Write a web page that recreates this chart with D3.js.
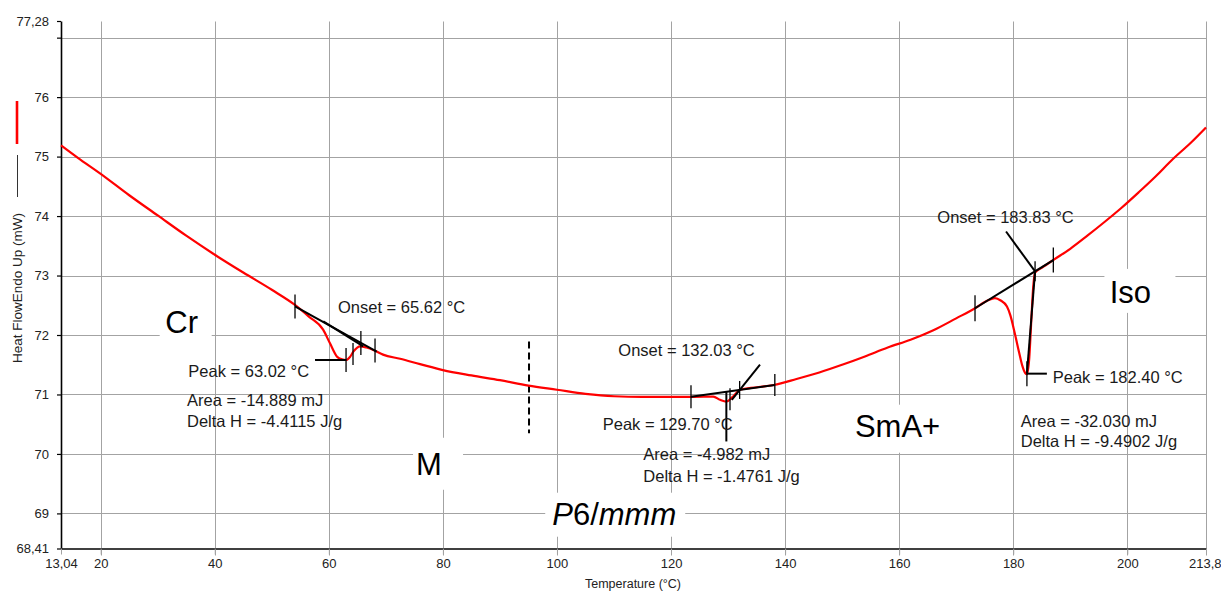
<!DOCTYPE html>
<html>
<head>
<meta charset="utf-8">
<script src="https://cdn.jsdelivr.net/npm/d3@7"></script>
<style>
  html, body { margin: 0; padding: 0; background: #fff; }
  svg { display: block; font-family: "Liberation Sans", Arial, sans-serif; }
</style>
</head>
<body>
<svg id="chart" width="1221" height="594"></svg>
<script>
// DSC heating trace: temperature (°C) and heat flow (mW, endo up)
const temperature = [13.04, 16, 20, 25, 30, 35, 40, 45, 50, 54, 56.5, 59, 60.2, 61.4, 62.3, 63.02, 63.7, 64.3,
  65.5, 66.6, 68, 69.5, 72.5, 76, 80, 85, 90, 95, 100, 105, 110, 115, 120, 124, 127.4, 128.6, 129.7, 130.7,
  132.1, 134, 138, 142, 146, 150, 154, 158, 162, 166, 170, 173.3, 175.5, 176.8, 177.8, 178.9, 179.5, 180.2,
  181, 181.6, 182.1, 182.4, 182.8, 183.2, 183.5, 183.83, 185, 187, 190, 193, 196, 199, 202, 205, 208, 211, 213.8];
const heatFlow = [75.19, 74.98, 74.71, 74.35, 74.01, 73.67, 73.35, 73.05, 72.76, 72.51, 72.31, 72.09, 71.86, 71.64,
  71.59, 71.58, 71.63, 71.72, 71.81, 71.79, 71.74, 71.67, 71.60, 71.51, 71.41, 71.32, 71.24, 71.15, 71.08, 71.01,
  70.97, 70.96, 70.96, 70.96, 70.965, 70.91, 70.88, 70.95, 71.08, 71.11, 71.16, 71.26, 71.37, 71.50, 71.64, 71.79,
  71.92, 72.08, 72.28, 72.45, 72.58, 72.62, 72.58, 72.48, 72.33, 72.06, 71.72, 71.48, 71.36, 71.34, 71.60, 72.30,
  72.80, 73.05, 73.13, 73.26, 73.45, 73.67, 73.90, 74.14, 74.40, 74.67, 74.96, 75.22, 75.49];

// Axis ticks
const xTickValues = [13.04, 20, 40, 60, 80, 100, 120, 140, 160, 180, 200, 213.8];
const xTickLabels = ["13,04", "20", "40", "60", "80", "100", "120", "140", "160", "180", "200", "213,8"];
const yTickValues = [68.41, 69, 70, 71, 72, 73, 74, 75, 76, 77, 77.28];
const yTickLabels = ["68,41", "69", "70", "71", "72", "73", "74", "75", "76", "", "77,28"];

// Peak analysis results, one entry per transition
const onsetT = [65.62, 132.03, 183.83];
const peakT = [63.02, 129.70, 182.40];
const areaMJ = [-14.889, -4.982, -32.030];
const deltaHJg = [-4.4115, -1.4761, -9.4902];

// Integration baselines [start, end] as [°C, mW]
const baselines = [
  [[54.07, 72.48], [68.4, 71.72]],
  [[123.5, 70.96], [138.2, 71.16]],
  [[173.3, 72.45], [187.03, 73.26]]
];
// Leading-edge tangents used for the onset
const onsetTangents = [
  [[59.03, 72.23], [66.04, 71.81]],
  [[130.65, 70.91], [135.6, 71.50]],
  [[178.74, 73.74], [183.83, 73.07]]
];
// Peak heat-flow level at each peak temperature
const peakLevel = [71.58, 70.88, 71.35];
// Extra marker positions (inflection points)
const inflections = [[64.24, 71.68], [130.34, 70.92]];

// Phase labels
const phaseNames = ["Cr", "M", "P6/mmm", "SmA+", "Iso"];
const phaseAt = [[34.2, 72.04], [77.57, 69.65], [110.04, 68.81], [159.72, 70.29], [200.55, 72.54]];
const phaseBoxes = [[-22, 30, -33, 12], [-16, 34, -37, 15], [-69, 71, -32, 12], [-48, 63, -32, 16], [-26, 45, -34, 10]];

// Phase boundary marker
const boundaryT = 95.1;
const boundaryRange = [70.35, 71.89];

const svg = d3.select("#chart");

const x = d3.scaleLinear().domain([13.04, 213.8]).range([61, 1206]);
const y = d3.scaleLinear().domain([68.41, 77.28]).range([548.5, 21]);
const px = v => Math.round(x(v)) + 0.5;
const py = v => Math.round(y(v)) + 0.5;

const gridColor = "#a3a3a3";

// Grid
const grid = svg.append("g");
grid.selectAll("line.gx").data(xTickValues.slice(1)).join("line")
  .attr("class", "gx")
  .attr("x1", d => px(d)).attr("x2", d => px(d))
  .attr("y1", py(77.28)).attr("y2", py(68.41) + 6)
  .attr("stroke", gridColor).attr("stroke-width", 1);
grid.selectAll("line.gy").data(yTickValues.filter(v => Number.isInteger(v))).join("line")
  .attr("class", "gy")
  .attr("x1", x(13.04)).attr("x2", px(213.8))
  .attr("y1", d => py(d)).attr("y2", d => py(d))
  .attr("stroke", gridColor).attr("stroke-width", 1);

// White backgrounds behind phase labels
svg.append("g").selectAll("rect").data(phaseNames).join("rect")
  .attr("x", (d, i) => x(phaseAt[i][0]) + phaseBoxes[i][0])
  .attr("y", (d, i) => y(phaseAt[i][1]) + phaseBoxes[i][2])
  .attr("width", (d, i) => phaseBoxes[i][1] - phaseBoxes[i][0])
  .attr("height", (d, i) => phaseBoxes[i][3] - phaseBoxes[i][2])
  .attr("fill", "#fff");

// Axes
const yAxis = d3.axisLeft(y).tickValues(yTickValues)
  .tickFormat((d, i) => yTickLabels[i]).tickSize(4).tickSizeOuter(0).tickPadding(8);
const gy = svg.append("g").attr("transform", "translate(61,0)").call(yAxis);
gy.select(".domain").attr("stroke", "#000").attr("stroke-width", 1.6);
gy.selectAll(".tick line").attr("stroke", "#000").attr("stroke-width", 1.2);
gy.selectAll(".tick text").attr("font-size", 13).attr("fill", "#222")
  .attr("font-family", "Liberation Sans, Arial, sans-serif");

const xAxis = d3.axisBottom(x).tickValues(xTickValues)
  .tickFormat((d, i) => xTickLabels[i]).tickSize(6).tickSizeOuter(0).tickPadding(4);
const gx = svg.append("g").attr("transform", `translate(0,${y(68.41)})`).call(xAxis);
gx.select(".domain").attr("stroke", "#000").attr("stroke-width", 1.6);
gx.selectAll(".tick line").attr("stroke", gridColor).attr("stroke-width", 1);
gx.selectAll(".tick text").attr("font-size", 13).attr("fill", "#222")
  .attr("font-family", "Liberation Sans, Arial, sans-serif");
// keep the last label inside the page edge
gx.selectAll(".tick text").filter((d, i) => i === xTickValues.length - 1)
  .attr("text-anchor", "end").attr("x", 15);

// Axis titles
svg.append("text")
  .attr("x", 633).attr("y", 588)
  .attr("text-anchor", "middle").attr("font-size", 12.5).attr("fill", "#222")
  .text("Temperature (°C)");
svg.append("text")
  .attr("transform", "translate(21.5,288) rotate(-90)")
  .attr("text-anchor", "middle").attr("font-size", 13.5).attr("fill", "#222")
  .text("Heat FlowEndo Up (mW)");
// Series key beside the y title
svg.append("line").attr("x1", 17).attr("x2", 17).attr("y1", 101).attr("y2", 144)
  .attr("stroke", "#ff0000").attr("stroke-width", 2.6);
svg.append("line").attr("x1", 17.5).attr("x2", 17.5).attr("y1", 155).attr("y2", 197)
  .attr("stroke", "#333").attr("stroke-width", 1);

// Phase boundary marker
svg.append("line")
  .attr("x1", x(boundaryT)).attr("x2", x(boundaryT))
  .attr("y1", y(boundaryRange[1])).attr("y2", y(boundaryRange[0]))
  .attr("stroke", "#000").attr("stroke-width", 2).attr("stroke-dasharray", "7,4");

// Heat-flow curve
const points = temperature.map((t, i) => [t, heatFlow[i]]);
svg.append("path").datum(points)
  .attr("fill", "none").attr("stroke", "#ff0000").attr("stroke-width", 2.2)
  .attr("stroke-linejoin", "round")
  .attr("d", d3.line().curve(d3.curveMonotoneX).x(d => x(d[0])).y(d => y(d[1])));

// Analysis overlays
const ann = svg.append("g").attr("stroke", "#000").attr("fill", "none");
const seg = (a, b, w) => ann.append("line")
  .attr("x1", x(a[0])).attr("y1", y(a[1])).attr("x2", x(b[0])).attr("y2", y(b[1]))
  .attr("stroke-width", w);
const tick = (p, half) => ann.append("line")
  .attr("x1", x(p[0])).attr("x2", x(p[0]))
  .attr("y1", y(p[1]) - half).attr("y2", y(p[1]) + half)
  .attr("stroke-width", 1.3);
const baseAt = (i, t) => {
  const [a, b] = baselines[i];
  return a[1] + (t - a[0]) * (b[1] - a[1]) / (b[0] - a[0]);
};

baselines.forEach(b => seg(b[0], b[1], 2));
onsetTangents.forEach(t => seg(t[0], t[1], 2));

// Cr melting
seg([57.58, peakLevel[0]], [peakT[0], peakLevel[0]], 2);
tick(baselines[0][0], 12);
tick([peakT[0], peakLevel[0]], 12);
tick(inflections[0], 11);
tick([onsetT[0], baseAt(0, onsetT[0])], 12);
tick([68.1, 71.74], 12);

// Middle transition
seg([peakT[1], 71.05], [peakT[1], 70.21], 2);
tick(baselines[1][0], 11.5);
tick(inflections[1], 11);
tick([onsetT[1], baseAt(1, onsetT[1])], 9);
tick(baselines[1][1], 11);

// Clearing
seg([onsetT[2], baseAt(2, onsetT[2])], [peakT[2], peakLevel[2]], 2);
seg([peakT[2], peakLevel[2]], [185.9, peakLevel[2]], 2);
tick(baselines[2][0], 13);
tick([peakT[2], peakLevel[2]], 12.5);
tick([onsetT[2], baseAt(2, onsetT[2])], 10);
tick(baselines[2][1], 12.5);

// Result texts
const fmt2 = d3.format(".2f");
const resultText = [];
[0, 1, 2].forEach(i => {
  resultText.push("Onset = " + fmt2(onsetT[i]) + " °C");
  resultText.push("Peak = " + fmt2(peakT[i]) + " °C");
  resultText.push("Area = " + areaMJ[i].toFixed(3) + " mJ");
  resultText.push("Delta H = " + deltaHJg[i].toFixed(4) + " J/g");
});
const resultAt = [
  [61.61, 72.37], [35.36, 71.30], [35.13, 70.81], [35.13, 70.46],
  [110.76, 71.64], [108.03, 70.40], [115.14, 69.89], [115.14, 69.53],
  [166.70, 73.88], [186.93, 71.20], [181.32, 70.46], [181.32, 70.11]
];
svg.append("g").selectAll("text").data(resultText).join("text")
  .attr("x", (d, i) => x(resultAt[i][0]))
  .attr("y", (d, i) => y(resultAt[i][1]))
  .attr("font-size", 16.5).attr("fill", "#1a1a1a")
  .text(d => d);

// Phase labels
const phases = svg.append("g");
phaseNames.forEach((name, i) => {
  const t = phases.append("text")
    .attr("x", x(phaseAt[i][0])).attr("y", y(phaseAt[i][1]))
    .attr("text-anchor", "middle").attr("font-size", 31).attr("fill", "#000");
  if (name === "P6/mmm") {
    t.append("tspan").attr("font-style", "italic").text("P");
    t.append("tspan").text("6/");
    t.append("tspan").attr("font-style", "italic").text("mmm");
  } else {
    t.text(name);
  }
});
</script>
</body>
</html>
